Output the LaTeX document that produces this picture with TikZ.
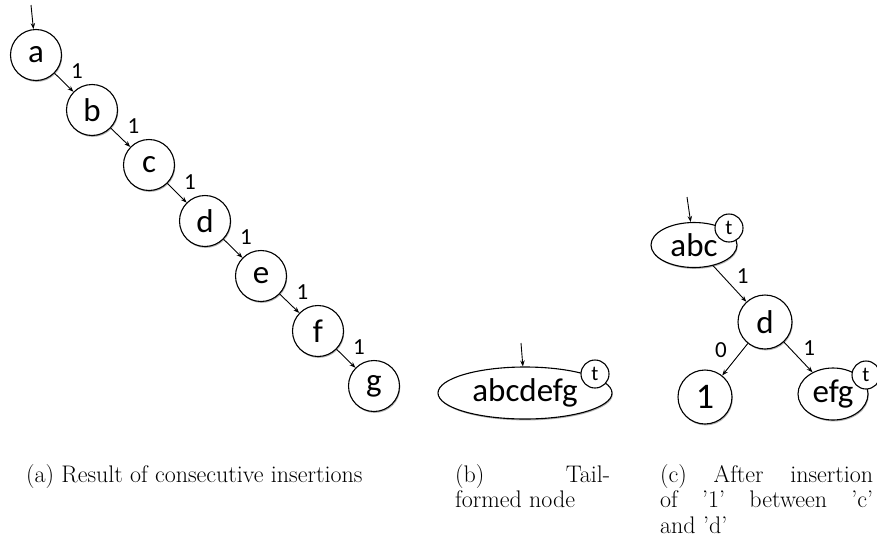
\documentclass[tikz,border=0pt]{standalone}
\usepackage{fontspec}
\newfontfamily\carlito{Carlito}
\usetikzlibrary{shapes.geometric,arrows.meta,shadows}
\begin{document}
\begin{tikzpicture}[x=1pt,y=-1pt,
  softshadow/.style={drop shadow={shadow xshift=0.8pt,shadow yshift=-1.4pt,opacity=0.3,fill=black}},
  vtx/.style={circle,draw,line width=1.1pt,fill=white,inner sep=0pt,minimum size=51pt,
    font=\carlito\fontsize{33}{33}\selectfont,softshadow},
  oval/.style={ellipse,draw,line width=1.1pt,fill=white,inner sep=0pt,
    font=\carlito\fontsize{33}{33}\selectfont,softshadow},
  tag/.style={circle,draw,line width=1.1pt,fill=white,inner sep=0pt,minimum size=28pt,
    font=\carlito\fontsize{21}{21}\selectfont},
  lbl/.style={font=\carlito\fontsize{23}{23}\selectfont,inner sep=0pt},
  edge/.style={-{Stealth[length=6pt,width=4.5pt]},line width=0.9pt},
  captxt/.style={inner sep=0pt,anchor=north west,font=\fontsize{24}{25.5}\selectfont}]
\useasboundingbox (0,0) rectangle (877,541);

% (a) chain built by consecutive insertions
\node[vtx] (a) at (36,55)   {a};
\node[vtx] (b) at (92,110)  {b};
\node[vtx] (c) at (149,165) {c};
\node[vtx] (d) at (205,221) {d};
\node[vtx] (e) at (261,276) {e};
\node[vtx] (f) at (318,331) {f};
\node[vtx] (g) at (374,386) {g};
\coordinate (ina) at (31,5);
\draw[edge] (ina) -- (a);
\foreach \u/\v in {a/b,b/c,c/d,d/e,e/f,f/g}
  \draw[edge] (\u) -- node[lbl,xshift=13pt,yshift=11pt] {1} (\v);

% (b) tail-formed node
\node[oval,minimum width=174pt,minimum height=52pt] (abcdefg) at (525,393) {abcdefg};
\node[tag] (tb) at (595,374) {t};
\coordinate (inb) at (521,343);
\draw[edge] (inb) -- (abcdefg);

% (c) after inserting '1' between 'c' and 'd'
\node[oval,minimum width=86pt,minimum height=45pt] (abc) at (694,245) {abc};
\node[tag] (tabc) at (729,228) {t};
\node[vtx,minimum size=54pt] (dd) at (765,322) {d};
\node[vtx,minimum size=54pt,font=\carlito\fontsize{36}{36}\selectfont] (one) at (705,397) {1};
\node[oval,minimum width=70pt,minimum height=52pt] (efg) at (833,394) {efg};
\node[tag] (tefg) at (866,375) {t};
\coordinate (inc) at (687,197);
\draw[edge] (inc) -- (abc);
\draw[edge] (abc) -- node[lbl,xshift=13pt,yshift=8pt] {1} (dd);
\draw[edge] (dd) -- node[lbl,xshift=-14pt,yshift=9pt] {0} (one);
\draw[edge] (dd) -- node[lbl,xshift=11pt,yshift=9pt] {1} (efg);

% sub-captions
\node[captxt] (capa) at (26,464) {(a) Result of consecutive insertions};
\node[captxt] (capb) at (455,464) {\parbox[t]{155pt}{(b)\hfill Tail-\\formed node}};
\node[captxt] (capc) at (660,464) {\parbox[t]{213pt}{(c) After insertion\linebreak
  of '1' between 'c'\linebreak and 'd'}};
\end{tikzpicture}
\end{document}
